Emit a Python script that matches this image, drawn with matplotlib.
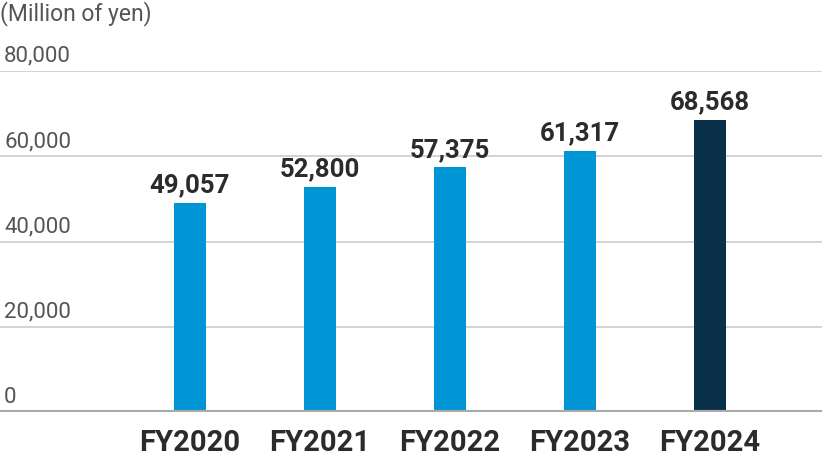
import matplotlib
matplotlib.use("Agg")
import matplotlib.pyplot as plt
import matplotlib.transforms as mtransforms

categories = ["FY2020", "FY2021", "FY2022", "FY2023", "FY2024"]
values = [49057, 52800, 57375, 61317, 68568]
yticks = [0, 20000, 40000, 60000, 80000]

plt.rcParams["font.family"] = "Roboto"

fig = plt.figure(figsize=(8.22, 4.54), dpi=100)
ax = fig.add_axes([0, 1 - 412 / 454, 1, (412 - 71) / 454])
ax.set_xlim(-190 / 130, (822 - 190) / 130)
ax.set_ylim(0, 80000)

colors = ["#0096d6"] * 4 + ["#0a3049"]
x = list(range(len(categories)))
ax.bar(x, values, width=32 / 130, color=colors, zorder=3)

for t in yticks[1:]:
    ax.axhline(t, color="#cccccc", lw=1.2, zorder=1)
ax.axhline(0, color="#aaaaaa", lw=3, zorder=4)

trans = mtransforms.blended_transform_factory(fig.transFigure, ax.transData)
off = mtransforms.offset_copy(trans, fig=fig, y=3, units="points")
for t in yticks:
    ax.text(4 / 822, t, f"{t:,}", transform=off, ha="left", va="bottom",
            fontsize=16, color="#555555")

for xi, v in zip(x, values):
    ax.annotate(f"{v:,}", (xi, v), xytext=(0, 4), textcoords="offset points",
                ha="center", va="bottom", fontsize=18.5, fontweight="bold",
                color="#2b2b2b", zorder=5)

ax.set_xticks(x)
ax.set_xticklabels(categories, fontsize=21, fontweight="bold", color="#2b2b2b")
ax.tick_params(axis="x", length=0, pad=12)
ax.set_yticks([])
for s in ax.spines.values():
    s.set_visible(False)

fig.text(0, 1 - 14 / 454, "(Million of yen)", fontsize=16.5,
         color="#555555", ha="left", va="center")

fig.savefig("out.png", dpi=100)
